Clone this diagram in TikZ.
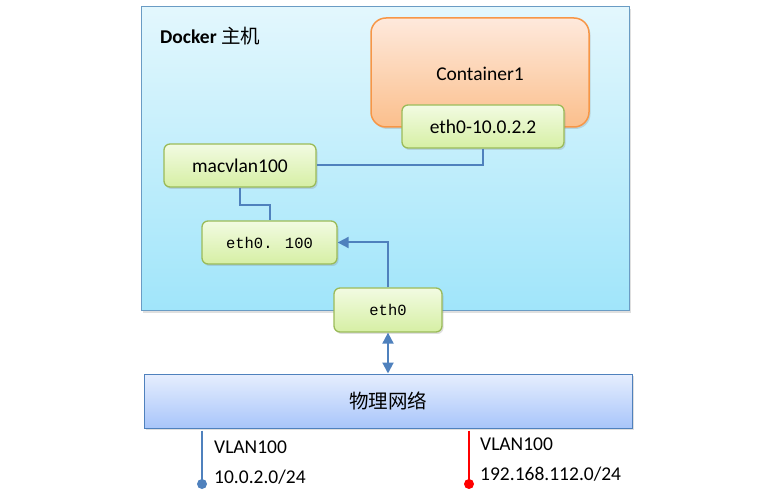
\documentclass[tikz,border=0pt]{standalone}
\usepackage{fontspec}
\setmainfont{Carlito}
\newfontfamily\cjk{Noto Sans CJK SC}
\newfontfamily\mono{Liberation Mono}
\usetikzlibrary{arrows.meta,shadows}

\definecolor{hostTop}{HTML}{E3F7FD}
\definecolor{hostBot}{HTML}{A0E5FA}
\definecolor{hostLine}{HTML}{6A9CC4}
\definecolor{ctnTop}{HTML}{FEE9DC}
\definecolor{ctnBot}{HTML}{FBBF8C}
\definecolor{ctnLine}{HTML}{F79646}
\definecolor{nicTop}{HTML}{F2FBE2}
\definecolor{nicBot}{HTML}{D6EFA4}
\definecolor{nicLine}{HTML}{9BBB59}
\definecolor{netTop}{HTML}{E6EEFE}
\definecolor{netBot}{HTML}{A8C5FA}
\definecolor{netLine}{HTML}{4F81BD}

\tikzset{
  box/.style={inner sep=0pt, line width=1pt,
    drop shadow={opacity=0.25, shadow xshift=1.5pt, shadow yshift=-2pt}},
  hostbox/.style={box, draw=hostLine, top color=hostTop, bottom color=hostBot},
  ctnbox/.style={box, draw=ctnLine, line width=1.5pt, top color=ctnTop, bottom color=ctnBot,
    rounded corners=15pt},
  nicbox/.style={box, draw=nicLine, line width=1.3pt, top color=nicTop, bottom color=nicBot,
    rounded corners=6pt},
  netbox/.style={box, draw=netLine, top color=netTop, bottom color=netBot},
  link/.style={draw=netLine, line width=2pt},
  tag/.style={anchor=west, inner sep=0pt, font=\fontsize{19.5}{22}\selectfont}
}

\begin{document}
\begin{tikzpicture}[x=1pt, y=-1pt]
  \useasboundingbox (0,0) rectangle (761,497);

  % docker host
  \node[hostbox, minimum width=488pt, minimum height=304pt] (host) at (385,159) {};
  \node[tag, font=\fontsize{19.5}{22}\selectfont\bfseries] (hostname) at (160,36) {Docker {\cjk\mdseries 主机}};

  % container and its interface
  \node[ctnbox, minimum width=218pt, minimum height=109pt] (ctn) at (480,72.5) {};
  \node[inner sep=0pt, font=\fontsize{19.5}{22}\selectfont] (ctnname) at (480,74) {Container1};
  \node[nicbox, minimum width=162pt, minimum height=43pt, font=\fontsize{19.5}{22}\selectfont]
    (ip) at (483,126.5) {eth0-10.0.2.2};

  % host interfaces
  \node[nicbox, minimum width=152pt, minimum height=43pt, font=\fontsize{19.5}{22}\selectfont]
    (mv) at (240,165.5) {macvlan100};
  \node[nicbox, minimum width=135pt, minimum height=43pt, font=\mono\fontsize{15.5}{18}\selectfont]
    (e100) at (269.5,242.5) {eth0. 100};
  \node[nicbox, minimum width=108pt, minimum height=44pt, font=\mono\fontsize{15.5}{18}\selectfont]
    (e0) at (388,310) {eth0};

  % physical network
  \node[netbox, minimum width=488pt, minimum height=54pt, font=\cjk\fontsize{19.5}{22}\selectfont]
    (net) at (388,401) {物理网络};

  \draw[link] (ip.south) |- (mv.east);
  \draw[link] (mv.south) -- ++(0,17) -| (e100.north);
  \draw[link, -{Triangle[length=11pt, width=11pt]}] (e0.north) |- (e100.east);
  \draw[link, {Triangle[length=11pt, width=11pt]}-{Triangle[length=11pt, width=11pt]}]
    (e0.south) -- (net.north);

  % vlans
  \coordinate (v1) at (202,484);
  \coordinate (v2) at (469,484);
  \draw[link] (net.south -| v1) ++(0,2) -- (v1);
  \fill[netLine] (v1) circle (5);
  \draw[link, draw=red] (net.south -| v2) ++(0,2) -- (v2);
  \fill[red] (v2) circle (5);

  \node[tag] (v1name) at (214,447) {VLAN100};
  \node[tag] (v1net) at (214,477) {10.0.2.0/24};
  \node[tag] (v2name) at (480,444) {VLAN100};
  \node[tag] (v2net) at (480,474) {192.168.112.0/24};
\end{tikzpicture}
\end{document}
